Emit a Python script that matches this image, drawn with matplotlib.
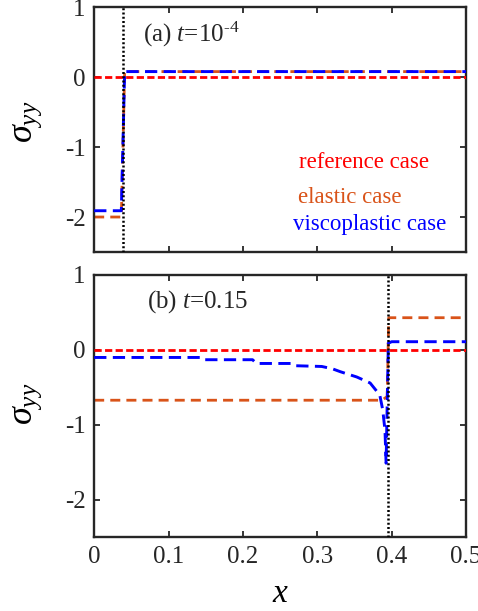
import matplotlib
matplotlib.use("Agg")
import matplotlib.pyplot as plt

plt.rcParams['font.family'] = ['Liberation Serif', 'DejaVu Serif']
plt.rcParams['mathtext.fontset'] = 'custom'
plt.rcParams['mathtext.rm'] = 'Liberation Serif'
plt.rcParams['mathtext.it'] = 'Liberation Serif:italic'
plt.rcParams['axes.unicode_minus'] = False

# (a) t = 1e-4
xa_ref = [0, 0.5]
ya_ref = [0, 0]
xa_el = [0, 0.0365, 0.041, 0.5]
ya_el = [-2.0, -2.0, 0.08, 0.08]
xa_vp = [0, 0.0365, 0.041, 0.5]
ya_vp = [-1.91, -1.91, 0.08, 0.08]
xa_front = 0.039

# (b) t = 0.15
xb_ref = [0, 0.5]
yb_ref = [0, 0]
xb_el = [0, 0.387, 0.394, 0.396, 0.5]
yb_el = [-0.67, -0.67, -0.62, 0.43, 0.43]
xb_vp = [0, 0.143, 0.146, 0.213, 0.218, 0.266, 0.270, 0.306, 0.320, 0.331,
         0.353, 0.371, 0.384, 0.388, 0.391, 0.3925, 0.3955, 0.400, 0.5]
yb_vp = [-0.10, -0.10, -0.13, -0.13, -0.18, -0.18, -0.21, -0.22, -0.25, -0.29,
         -0.36, -0.44, -0.60, -0.80, -1.07, -1.51, 0.09, 0.11, 0.11]
xb_front = 0.3946

c_ref = (1, 0, 0)
c_el = (0.85, 0.325, 0.098)
c_vp = (0, 0, 1)
spine_c = (0.15, 0.15, 0.15)

fig = plt.figure(figsize=(4.78, 6.11), dpi=100)
ax1 = fig.add_axes([0.197, 0.5876, 0.778, 0.4005])
ax2 = fig.add_axes([0.197, 0.1203, 0.778, 0.4297])

def draw(ax, xr, yr, xe, ye, xv, yv, xf):
    ax.plot(xr, yr, color=c_ref, lw=2.0, dashes=(2.6, 1.2), zorder=3)
    ax.plot(xe, ye, color=c_el, lw=2.0, dashes=(3.6, 2.2), zorder=2)
    ax.plot(xv, yv, color=c_vp, lw=2.1, dashes=(4.2, 2.2), zorder=4)
    ax.axvline(xf, color='k', lw=1.8, dashes=(0.8, 0.9), zorder=5)
    ax.set_xlim(0, 0.5)
    ax.set_ylim(-2.5, 1)
    ax.set_xticks([0, 0.1, 0.2, 0.3, 0.4, 0.5])
    ax.set_yticks([-2, -1, 0, 1])
    ax.set_yticklabels(['-2', '-1', '0', '1'])
    ax.tick_params(direction='in', length=4, width=1.3, top=True, right=True,
                   labelsize=18, colors=spine_c, labelcolor='#262626', pad=6)
    for s in ax.spines.values():
        s.set_linewidth(1.7)
        s.set_color(spine_c)
    ax.set_ylabel(r'$\sigma_{yy}$', fontsize=26)

draw(ax1, xa_ref, ya_ref, xa_el, ya_el, xa_vp, ya_vp, xa_front)
draw(ax2, xb_ref, yb_ref, xb_el, yb_el, xb_vp, yb_vp, xb_front)
ax1.yaxis.set_label_coords(-0.135, 0.53)
ax2.yaxis.set_label_coords(-0.135, 0.51)

ax1.set_xticklabels([])
ax2.set_xticklabels(['0', '0.1', '0.2', '0.3', '0.4', '0.5'])
ax2.set_xlabel(r'$x$', fontsize=24, labelpad=8)

ax1.text(0.132, 0.887, r'(a) $t$=10$^{\text{-4}}$', transform=ax1.transAxes,
         fontsize=18, va='center', ha='left', color='#262626')
ax2.text(0.141, 0.898, r'(b) $t$=0.15', transform=ax2.transAxes,
         fontsize=18, va='center', ha='left', color='#262626')

ax1.text(0.552, 0.365, 'reference case', transform=ax1.transAxes,
         fontsize=16.5, va='center', ha='left', color=c_ref)
ax1.text(0.547, 0.222, 'elastic case', transform=ax1.transAxes,
         fontsize=16.5, va='center', ha='left', color=c_el)
ax1.text(0.535, 0.114, 'viscoplastic case', transform=ax1.transAxes,
         fontsize=16.5, va='center', ha='left', color=c_vp)

fig.savefig("out.png", dpi=100)
